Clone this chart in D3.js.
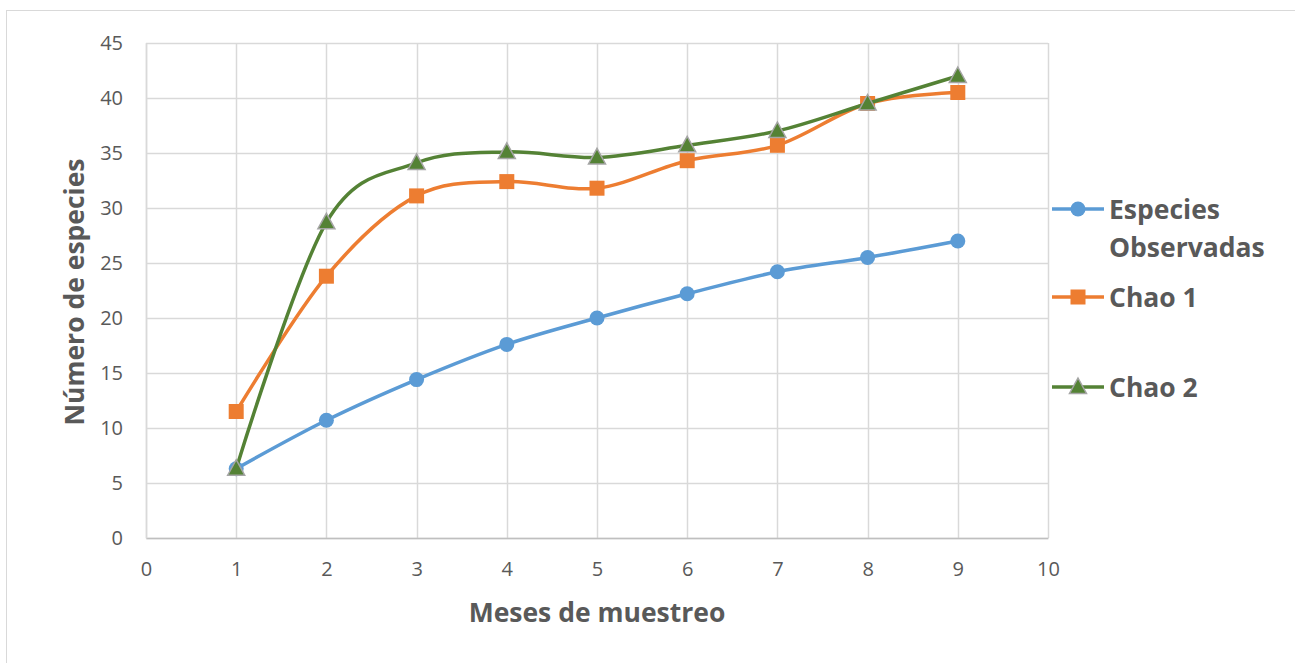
<!DOCTYPE html>
<html>
<head>
<meta charset="utf-8">
<script src="https://cdn.jsdelivr.net/npm/d3@7"></script>
<style>
  body { margin: 0; background: #fff; }
  svg { display: block; font-family: "Open Sans", sans-serif; }
</style>
</head>
<body>
<svg id="chart" width="1295" height="663"></svg>
<script>
// Months sampled and species richness estimates
const months = [1, 2, 3, 4, 5, 6, 7, 8, 9];
const observadas = [6.3, 10.7, 14.4, 17.6, 20.0, 22.2, 24.2, 25.5, 27.0];
const chao1 = [11.5, 23.8, 31.1, 32.4, 31.8, 34.3, 35.7, 39.5, 40.5];
const chao2 = [6.3, 28.7, 34.1, 35.1, 34.6, 35.7, 37.0, 39.5, 42.0];
const xTicks = [0, 1, 2, 3, 4, 5, 6, 7, 8, 9, 10];
const yTicks = [0, 5, 10, 15, 20, 25, 30, 35, 40, 45];

const series = [
  { name: ["Especies", "Observadas"], values: observadas, color: "#5b9bd5", marker: "circle" },
  { name: ["Chao 1"], values: chao1, color: "#ed7d31", marker: "square" },
  { name: ["Chao 2"], values: chao2, color: "#548235", marker: "triangle" }
];

const svg = d3.select("#chart");
const textColor = "#595959";
const gridColor = "#d9d9d9";

// outer chart border
svg.append("rect").attr("x", 6.5).attr("y", 10.5).attr("width", 1300).attr("height", 670)
  .attr("fill", "none").attr("stroke", gridColor);

const x = d3.scaleLinear().domain([0, 10]).range([146, 1048]);
const y = d3.scaleLinear().domain([0, 45]).range([538, 43]);

// gridlines
svg.append("g").selectAll("line").data(yTicks).join("line")
  .attr("x1", x(0)).attr("x2", x(10))
  .attr("y1", d => Math.round(y(d)) + 0.5).attr("y2", d => Math.round(y(d)) + 0.5)
  .attr("stroke", gridColor).attr("stroke-width", 1.5);
svg.append("g").selectAll("line").data(xTicks).join("line")
  .attr("y1", y(0)).attr("y2", y(45))
  .attr("x1", d => Math.round(x(d)) + 0.5).attr("x2", d => Math.round(x(d)) + 0.5)
  .attr("stroke", gridColor).attr("stroke-width", 1.5);

// axes
const xAxis = svg.append("g").attr("transform", `translate(0,${y(0)})`)
  .call(d3.axisBottom(x).tickValues(xTicks).tickSize(0).tickPadding(24));
const yAxis = svg.append("g").attr("transform", `translate(${x(0)},0)`)
  .call(d3.axisLeft(y).tickValues(yTicks).tickSize(0).tickPadding(23));
[xAxis, yAxis].forEach(g => {
  g.select(".domain").attr("stroke", "#bfbfbf").attr("stroke-width", 1.5);
  g.selectAll("text").attr("fill", textColor).attr("font-size", 20)
    .attr("font-family", "Open Sans, sans-serif");
});
yAxis.select(".domain").attr("stroke", gridColor);

// axis titles
svg.append("text").attr("x", 597).attr("y", 622).attr("text-anchor", "middle")
  .attr("font-size", 26.5).attr("font-weight", "bold").attr("fill", textColor)
  .text("Meses de muestreo");
svg.append("text").attr("transform", "translate(84,292) rotate(-90)").attr("text-anchor", "middle")
  .attr("font-size", 26.5).attr("font-weight", "bold").attr("fill", textColor)
  .text("Número de especies");

const line = d3.line().curve(d3.curveCardinal.tension(0))
  .x((d, i) => x(months[i])).y(d => y(d));

function drawMarker(g, type, color) {
  if (type === "circle") {
    g.append("circle").attr("r", 7.5).attr("fill", color);
  } else if (type === "square") {
    g.append("rect").attr("x", -7.5).attr("y", -7.5).attr("width", 15).attr("height", 15).attr("fill", color);
  } else {
    g.append("path").attr("d", "M0,-9L8.5,6.5L-8.5,6.5Z").attr("fill", color)
      .attr("stroke", "#a5a5a5").attr("stroke-width", 1.5);
  }
}

series.forEach(s => {
  svg.append("path").datum(s.values).attr("d", line)
    .attr("fill", "none").attr("stroke", s.color).attr("stroke-width", 3.5)
    .attr("stroke-linecap", "round");
  s.values.forEach((v, i) => {
    const g = svg.append("g").attr("transform", `translate(${x(months[i])},${y(v)})`);
    drawMarker(g, s.marker, s.color);
  });
});

// legend
const legendRows = [
  { s: series[0], ly: 209 },
  { s: series[1], ly: 297 },
  { s: series[2], ly: 387 }
];
legendRows.forEach(({ s, ly }) => {
  svg.append("line").attr("x1", 1052).attr("x2", 1104).attr("y1", ly).attr("y2", ly)
    .attr("stroke", s.color).attr("stroke-width", 3.5);
  const g = svg.append("g").attr("transform", `translate(1078,${ly})`);
  drawMarker(g, s.marker, s.color);
  s.name.forEach((t, k) => {
    svg.append("text").attr("x", 1109).attr("y", ly + 9.5 + k * 38)
      .attr("font-size", 26.5).attr("font-weight", "bold").attr("fill", textColor)
      .text(t);
  });
});
</script>
</body>
</html>
